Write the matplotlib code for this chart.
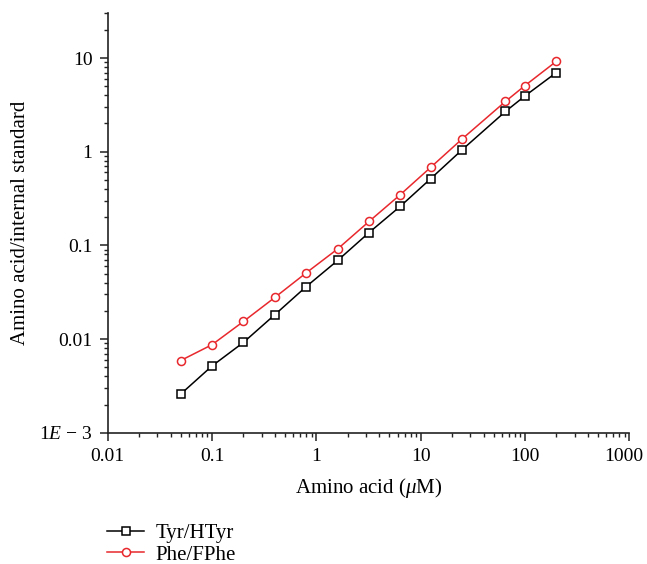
import matplotlib.pyplot as plt
import matplotlib.ticker as mticker
import matplotlib.transforms as mtransforms
import numpy as np

plt.rcParams['font.family'] = 'Liberation Serif'
plt.rcParams['font.size'] = 15
plt.rcParams['mathtext.fontset'] = 'custom'
plt.rcParams['mathtext.rm'] = 'Liberation Serif'
plt.rcParams['mathtext.it'] = 'Liberation Serif:italic'

# 数据
conc = [0.05, 0.1, 0.2, 0.4, 0.8, 1.6, 3.2, 6.4, 12.5, 25, 65, 100, 200]
tyr = [0.00258, 0.00516, 0.0092, 0.0182, 0.0363, 0.069, 0.137, 0.262, 0.516, 1.05, 2.69, 3.94, 7.0]
phe = [0.00589, 0.0087, 0.0154, 0.0278, 0.0509, 0.0916, 0.18, 0.349, 0.682, 1.37, 3.44, 5.08, 9.23]

y_ticks = [1e-3, 0.01, 0.1, 1, 10]
y_labels = ['1$\\mathit{E}$ − 3', '0.01', '0.1', '1', '10']
x_ticks = [0.01, 0.1, 1, 10, 100, 1000]
x_labels = ['0.01', '0.1', '1', '10', '100', '1000']

fig = plt.figure(figsize=(6.47, 5.64), dpi=100)
ax = fig.add_axes([0.1665, 0.2328, 0.8062, 0.7436])

ax.plot(conc, tyr, color='black', linewidth=1.1, marker='s', markersize=5.2,
        markerfacecolor='white', markeredgecolor='black', markeredgewidth=1.1, label='Tyr/HTyr')
ax.plot(conc, phe, color='#e8282d', linewidth=1.1, marker='o', markersize=5.8,
        markerfacecolor='white', markeredgecolor='#e8282d', markeredgewidth=1.1, label='Phe/FPhe')

ax.set_xscale('log')
ax.set_yscale('log')
ax.set_xlim(0.01, 1000)
ax.set_ylim(1e-3, 30)

ax.xaxis.set_major_locator(mticker.FixedLocator(x_ticks))
ax.xaxis.set_major_formatter(mticker.FixedFormatter(x_labels))
ax.yaxis.set_major_locator(mticker.FixedLocator(y_ticks))
ax.yaxis.set_major_formatter(mticker.FixedFormatter(y_labels))
ax.xaxis.set_minor_locator(mticker.LogLocator(base=10, subs=np.arange(2, 10), numticks=20))
ax.yaxis.set_minor_locator(mticker.LogLocator(base=10, subs=np.arange(2, 10), numticks=20))
ax.xaxis.set_minor_formatter(mticker.NullFormatter())
ax.yaxis.set_minor_formatter(mticker.NullFormatter())

ax.spines['top'].set_visible(False)
ax.spines['right'].set_visible(False)
for s in ['left', 'bottom']:
    ax.spines[s].set_linewidth(1.2)
    ax.spines[s].set_color('#222222')
ax.tick_params(which='major', direction='out', length=6, width=1.1, color='#222222',
               labelsize=14, pad=5)
ax.tick_params(which='minor', direction='out', length=3, width=1.0, color='#222222')

ax.set_xlabel('Amino acid ($\\mu$M)', fontsize=15, va='center')
ax.set_ylabel('Amino acid/internal standard', fontsize=15, va='center')
ax.xaxis.set_label_coords(0.5, -0.132)
ax.yaxis.set_label_coords(-0.1668, 0.5)

# 最后一个刻度标签左移，避免被裁切
fig.canvas.draw()
last = ax.xaxis.get_major_ticks()[-1].label1
last.set_transform(last.get_transform() + mtransforms.ScaledTranslation(-0.06, 0, fig.dpi_scale_trans))

fig.legend(loc='upper left', bbox_to_anchor=(0.166, 0.072), frameon=False,
           fontsize=15, handlelength=1.75, handletextpad=0.55, labelspacing=0.1,
           borderaxespad=0, borderpad=0)

plt.savefig('out.png', dpi=100)
